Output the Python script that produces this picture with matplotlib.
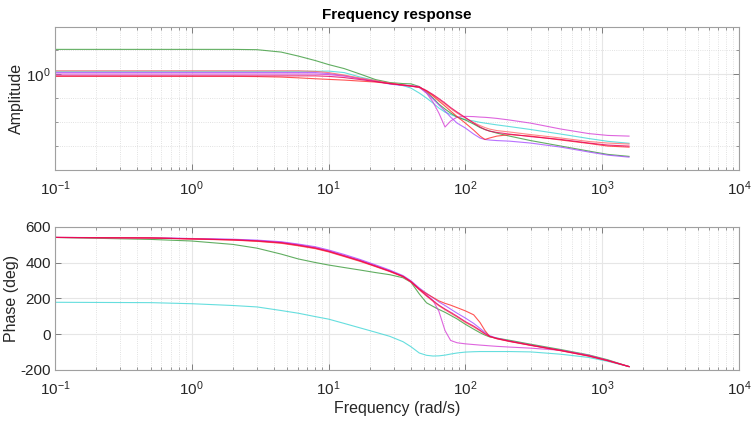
import numpy as np
import matplotlib
matplotlib.use("Agg")
import matplotlib.pyplot as plt
from matplotlib.ticker import LogLocator, FixedLocator, NullFormatter

plt.rcParams["font.family"] = ["Liberation Sans", "DejaVu Sans"]
plt.rcParams["mathtext.default"] = "regular"
plt.rcParams["axes.unicode_minus"] = False

# frequency grid (rad/s) shared by all responses
freq = [0.1, 0.5, 1, 2, 3, 4.5, 6, 8, 10, 13, 17, 22, 28, 35, 40, 46, 52, 58,
        64, 71, 78, 87, 100, 115, 128, 139, 150, 170, 210, 300, 500, 800, 1100, 1571]

# amplitude (linear) per response
amp_green = [1.606, 1.606, 1.606, 1.606, 1.597, 1.525, 1.413, 1.296, 1.200, 1.111, 1.0, 0.900,
             0.850, 0.833, 0.829, 0.787, 0.708, 0.631, 0.562, 0.511, 0.473, 0.438, 0.414, 0.383,
             0.358, 0.345, 0.335, 0.322, 0.304, 0.279, 0.251, 0.228, 0.214, 0.206]
amp_cyan = [1.055, 1.055, 1.055, 1.055, 1.055, 1.055, 1.055, 1.055, 1.059, 1.029, 0.944, 0.883,
            0.841, 0.802, 0.764, 0.695, 0.631, 0.573, 0.521, 0.482, 0.460, 0.438, 0.418, 0.406,
            0.396, 0.390, 0.385, 0.377, 0.365, 0.345, 0.316, 0.290, 0.275, 0.265]
amp_magenta = [1.0, 1.0, 1.0, 1.0, 1.0, 1.0, 1.0, 1.0, 0.990, 0.962, 0.917, 0.874,
               0.833, 0.810, 0.802, 0.787, 0.695, 0.584, 0.473, 0.362, 0.406, 0.438, 0.444, 0.442,
               0.438, 0.436, 0.433, 0.427, 0.414, 0.390, 0.348, 0.319, 0.308, 0.304]
amp_purple = [1.029, 1.029, 1.029, 1.029, 1.029, 1.029, 1.029, 1.029, 1.010, 0.972, 0.917, 0.874,
              0.825, 0.802, 0.794, 0.772, 0.695, 0.619, 0.552, 0.492, 0.438, 0.390, 0.355, 0.316,
              0.293, 0.285, 0.282, 0.279, 0.276, 0.266, 0.246, 0.224, 0.211, 0.203]
amp_red = [0.957, 0.957, 0.957, 0.957, 0.953, 0.944, 0.930, 0.914, 0.903, 0.891, 0.874, 0.858,
           0.833, 0.810, 0.794, 0.779, 0.722, 0.656, 0.596, 0.541, 0.492, 0.442, 0.390, 0.341,
           0.304, 0.285, 0.293, 0.304, 0.313, 0.304, 0.282, 0.264, 0.251, 0.246]
amp_lightred = [1.065, 1.065, 1.065, 1.065, 1.065, 1.065, 1.065, 1.053, 1.029, 0.981, 0.926, 0.883,
                0.841, 0.810, 0.794, 0.772, 0.722, 0.668, 0.613, 0.562, 0.516, 0.473, 0.430, 0.394,
                0.372, 0.358, 0.348, 0.338, 0.329, 0.313, 0.293, 0.274, 0.266, 0.261]
amp_crimson = [0.966, 0.966, 0.966, 0.966, 0.966, 0.966, 0.966, 0.966, 0.957, 0.935, 0.900, 0.866,
               0.833, 0.810, 0.794, 0.779, 0.729, 0.675, 0.625, 0.573, 0.526, 0.482, 0.434, 0.390,
               0.362, 0.345, 0.335, 0.326, 0.316, 0.301, 0.285, 0.266, 0.256, 0.251]

# phase (deg) per response
ph_green = [540, 529, 520, 501, 480, 447, 420, 400, 386, 372, 358, 344, 332, 315, 290, 225, 175, 155,
            138, 122, 105, 85, 55, 28, 8, -5, -15, -22, -34, -56, -86, -116, -143, -181]
ph_cyan = [178, 176, 170, 160, 152, 132, 117, 98, 84, 60, 35, 11, -12, -42, -70, -105, -118, -122,
           -121, -117, -111, -105, -100, -98, -97, -97, -97, -97, -97, -99, -112, -130, -152, -181]
ph_magenta = [540, 538, 533, 528, 522, 513, 500, 484, 466, 440, 413, 383, 354, 324, 295, 254, 220, 188,
              128, 20, -35, -48, -54, -58, -61, -63, -65, -68, -72, -78, -90, -118, -146, -181]
ph_purple = [540, 538, 534, 530, 525, 516, 503, 488, 470, 445, 417, 387, 358, 327, 298, 258, 228, 203,
             180, 160, 140, 117, 90, 60, 32, 10, -8, -22, -38, -60, -90, -120, -147, -181]
ph_red = [540, 537, 532, 526, 519, 509, 495, 479, 461, 435, 408, 379, 351, 322, 294, 252, 226, 205,
          186, 172, 162, 148, 130, 108, 65, 20, -12, -24, -39, -61, -91, -121, -147, -181]
ph_lightred = [540, 537, 531, 525, 518, 507, 493, 477, 459, 433, 406, 377, 349, 320, 290, 248, 212, 183,
               158, 136, 117, 95, 65, 40, 18, 0, -13, -26, -41, -63, -93, -123, -149, -181]
ph_crimson = [540, 537, 532, 527, 521, 511, 497, 481, 463, 437, 410, 380, 352, 322, 292, 250, 215, 187,
              162, 140, 122, 100, 70, 45, 22, 3, -12, -25, -40, -62, -92, -122, -148, -181]

series = [
    (amp_cyan, ph_cyan, "#3fd6d6"),
    (amp_green, ph_green, "#3a9a3a"),
    (amp_purple, ph_purple, "#a64dff"),
    (amp_magenta, ph_magenta, "#d63fd6"),
    (amp_lightred, ph_lightred, "#ff6a6a"),
    (amp_red, ph_red, "#ff2a2a"),
    (amp_crimson, ph_crimson, "#e6005c"),
]

fig = plt.figure(figsize=(7.53, 4.23), dpi=100)
ax1 = fig.add_axes([0.073, 0.598, 0.9084, 0.338])
ax2 = fig.add_axes([0.073, 0.1253, 0.9084, 0.3388])

for amp, ph, col in series:
    ax1.plot(freq, amp, color=col, lw=0.8, alpha=0.8)
    ax2.plot(freq, ph, color=col, lw=0.8, alpha=0.8)

ax1.set_yscale("log")
ax1.set_ylim(10 ** -0.8, 10 ** 0.3917)
ax1.yaxis.set_major_locator(FixedLocator([1.0]))
ax1.yaxis.set_minor_locator(FixedLocator([10 ** 0.2, 10 ** -0.2, 10 ** -0.4, 10 ** -0.6]))
ax1.yaxis.set_minor_formatter(NullFormatter())
ax1.set_ylabel("Amplitude", fontsize=11.5, color="#262626")
ax1.yaxis.set_label_coords(-0.045, 0.5)
ax1.set_title("Frequency response", fontsize=11, fontweight="bold", pad=6)

ax2.set_ylim(-200, 600)
ax2.set_yticks([-200, 0, 200, 400, 600])
ax2.set_ylabel("Phase (deg)", fontsize=11.5, color="#262626")
ax2.yaxis.set_label_coords(-0.0525, 0.5)
ax2.set_xlabel("Frequency (rad/s)", fontsize=11.5, color="#262626", labelpad=2)

for ax in (ax1, ax2):
    ax.set_xscale("log")
    ax.set_xlim(0.1, 1e4)
    ax.xaxis.set_major_locator(LogLocator(base=10, numticks=10))
    ax.xaxis.set_minor_locator(LogLocator(base=10, subs=np.arange(2, 10), numticks=20))
    ax.xaxis.set_minor_formatter(NullFormatter())
    ax.grid(True, which="major", color="#e6e6e6", lw=0.8, ls="-")
    ax.grid(True, which="minor", color="#d8d8d8", lw=0.6, ls=":")
    ax.set_axisbelow(True)
    ax.tick_params(which="both", direction="in", top=True, right=True,
                   color="#6e6e6e", labelsize=11, labelcolor="#262626")
    ax.tick_params(axis="x", which="major", pad=7)
    ax.tick_params(axis="y", which="major", pad=3)
    ax.tick_params(which="major", length=4, width=0.6)
    ax.tick_params(which="minor", length=2, width=0.5)
    for sp in ax.spines.values():
        sp.set_color("#a0a0a0")
        sp.set_linewidth(0.8)

fig.savefig("out.png", dpi=100)
